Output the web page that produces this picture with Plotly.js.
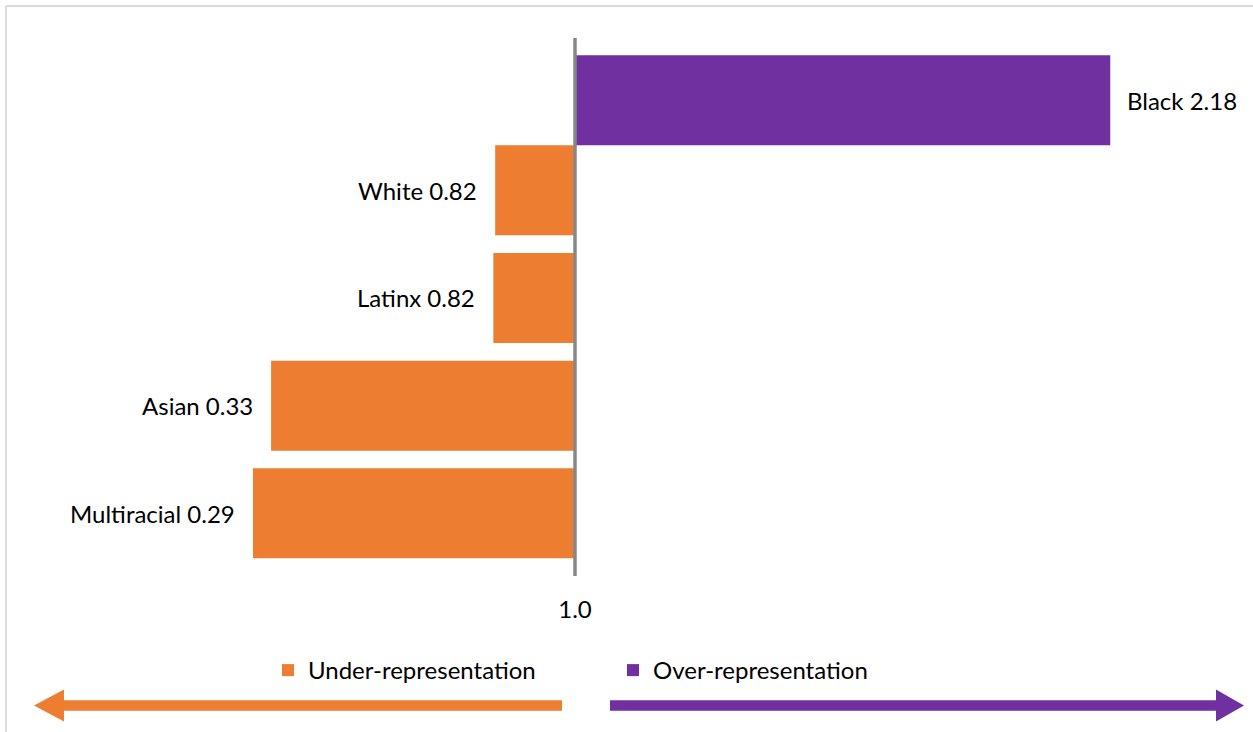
<!DOCTYPE html>
<html>
<head>
<meta charset="utf-8">
<script src="https://cdn.plot.ly/plotly-3.0.1.min.js"></script>
<style>html,body{margin:0;padding:0;background:#fff;}#chart{width:1253px;height:732px;}</style>
</head>
<body>
<div id="chart"></div>
<script>
// ---- data ----
const categories = ['Black', 'White', 'Latinx', 'Asian', 'Multiracial'];
const values = [2.18, 0.824, 0.82, 0.33, 0.29];
const categoryOrder = ['Multiracial', 'Asian', 'Latinx', 'White', 'Black']; // bottom to top
const baseline = 1.0;
const baselineLabel = '1.0';
const seriesNames = ['Under-representation', 'Over-representation'];

// ---- style ----
const ORANGE = '#ED7D31';
const PURPLE = '#7030A0';
const FONT = 'Lato, "Noto Sans", sans-serif';
const FS = 24;
const W = 1253, H = 732;
const M = {l: 6, r: 6, t: 38, b: 156};
const barWidth = 0.836;
const overOffset = -0.582; // the over-representation bar sits lower in its slot
const underOffset = -barWidth / 2;

const under = {cats: [], vals: []};
const over = {cats: [], vals: []};
categories.forEach((c, i) => {
  const g = values[i] < baseline ? under : over;
  g.cats.push(c); g.vals.push(values[i]);
});

const traces = [
  {
    type: 'bar', orientation: 'h', name: seriesNames[0],
    y: under.cats, x: under.vals.map(v => v - baseline), base: baseline,
    width: barWidth, offset: underOffset,
    marker: {color: ORANGE}, hoverinfo: 'y+text', text: under.vals.map(v => v.toFixed(2)), textposition: 'none'
  },
  {
    type: 'bar', orientation: 'h', name: seriesNames[1],
    y: over.cats, x: over.vals.map(v => v - baseline), base: baseline,
    width: barWidth, offset: overOffset,
    marker: {color: PURPLE}, hoverinfo: 'y+text', text: over.vals.map(v => v.toFixed(2)), textposition: 'none'
  }
];

// x range: baseline at pixel 575, 453.6 px per unit
const pxPerUnit = 453.6;
const plotW = W - M.l - M.r, plotH = H - M.t - M.b;
const x0 = baseline - (575 - M.l) / pxPerUnit;
const x1 = x0 + plotW / pxPerUnit;

const px = p => (p - M.l) / plotW;
const py = p => (H - M.b - p) / plotH;

const annotations = categories.map((c, i) => {
  const v = values[i];
  const isOver = v >= baseline;
  const off = isOver ? overOffset : underOffset;
  return {
    x: v, xref: 'x',
    y: categoryOrder.indexOf(c) + off + barWidth / 2, yref: 'y',
    text: c + ' ' + v.toFixed(2),
    showarrow: false,
    xanchor: isOver ? 'left' : 'right',
    xshift: isOver ? 15 : -16,
    font: {family: FONT, size: FS, color: '#000'}
  };
});

function arrowPath(tailPx, tipPx, cy, shaftH, headLen, headH) {
  const dir = tipPx > tailPx ? 1 : -1;
  const hb = tipPx - dir * headLen;
  const pts = [
    [tailPx, cy - shaftH / 2], [hb, cy - shaftH / 2], [hb, cy - headH / 2],
    [tipPx, cy], [hb, cy + headH / 2], [hb, cy + shaftH / 2], [tailPx, cy + shaftH / 2]
  ];
  return 'M' + pts.map(p => px(p[0]).toFixed(5) + ',' + py(p[1]).toFixed(5)).join(' L') + ' Z';
}

const shapes = [
  // chart frame (left and top edges)
  {type: 'line', xref: 'paper', yref: 'paper', x0: px(6), x1: px(6), y0: py(6), y1: py(732), line: {color: '#D0D0D0', width: 1.5}},
  {type: 'line', xref: 'paper', yref: 'paper', x0: px(6), x1: px(1253), y0: py(6), y1: py(6), line: {color: '#D0D0D0', width: 1.5}},
  // baseline axis at 1.0
  {type: 'line', xref: 'x', yref: 'paper', x0: baseline, x1: baseline, y0: 0, y1: 1, layer: 'above', line: {color: '#878787', width: 3.5}},
  // direction arrows
  {type: 'path', xref: 'paper', yref: 'paper', path: arrowPath(562, 34, 705.5, 10.5, 30, 32), fillcolor: ORANGE, line: {width: 0}},
  {type: 'path', xref: 'paper', yref: 'paper', path: arrowPath(610, 1244, 705.5, 10.5, 28, 32), fillcolor: PURPLE, line: {width: 0}}
];

const layout = {
  width: W, height: H,
  margin: M,
  paper_bgcolor: '#fff', plot_bgcolor: '#fff',
  font: {family: FONT, size: FS, color: '#000'},
  barmode: 'overlay',
  showlegend: true,
  legend: {
    orientation: 'h', x: px(268), xanchor: 'left', y: py(648), yanchor: 'top',
    font: {family: FONT, size: FS, color: '#000'}, entrywidth: 300, traceorder: 'normal'
  },
  xaxis: {
    range: [x0, x1], showgrid: false, zeroline: false, showline: false,
    tickvals: [baseline], ticktext: [baselineLabel], ticks: 'outside', ticklen: 12,
    tickcolor: 'rgba(0,0,0,0)', tickfont: {family: FONT, size: FS, color: '#000'}, fixedrange: true
  },
  yaxis: {
    type: 'category', categoryorder: 'array', categoryarray: categoryOrder,
    range: [-0.582, 4.414], showgrid: false, zeroline: false, showline: false,
    showticklabels: false, ticks: '', fixedrange: true
  },
  annotations: annotations,
  shapes: shapes
};

Plotly.newPlot('chart', traces, layout, {displayModeBar: false, staticPlot: true});
</script>
</body>
</html>
